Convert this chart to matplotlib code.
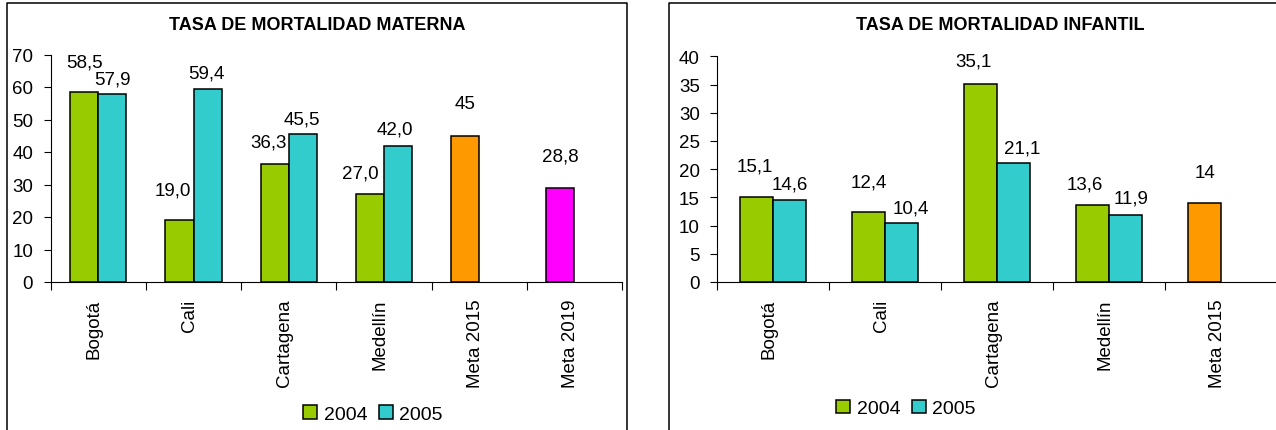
import matplotlib
matplotlib.use("Agg")
import matplotlib.pyplot as plt
from matplotlib.patches import Patch
from matplotlib.lines import Line2D
from matplotlib.transforms import ScaledTranslation

# ---------------- data ----------------
mat_categories = ["Bogotá", "Cali", "Cartagena", "Medellín", "Meta 2015", "Meta 2019"]
mat_2004 = [58.5, 19.0, 36.3, 27.0, 45, 28.8]
mat_2005 = [57.9, 59.4, 45.5, 42.0, None, None]
mat_yticks = [0, 10, 20, 30, 40, 50, 60, 70]

inf_categories = ["Bogotá", "Cali", "Cartagena", "Medellín", "Meta 2015"]
inf_2004 = [15.1, 12.4, 35.1, 13.6, 14]
inf_2005 = [14.6, 10.4, 21.1, 11.9, None]
inf_yticks = [0, 5, 10, 15, 20, 25, 30, 35, 40]

series_names = ["2004", "2005"]
title_mat = "TASA DE MORTALIDAD MATERNA"
title_inf = "TASA DE MORTALIDAD INFANTIL"

# ---------------- style ----------------
C2004 = "#99CC00"
C2005 = "#33CCCC"
C_META15 = "#FF9900"
C_META19 = "#FF00FF"
mat_colors_2004 = [C2004, C2004, C2004, C2004, C_META15, C_META19]
inf_colors_2004 = [C2004, C2004, C2004, C2004, C_META15]

# label offsets in pixels (dx, distance above bar top to label centre)
mat_off_2004 = [(0, 30), (-7, 30), (-6, 22), (-10, 21), (0, 32), (0, 32)]
mat_off_2005 = [(0, 15), (-1, 16), (-1, 15), (-3, 16)]
inf_off_2004 = [(-2, 31), (0, 30), (-7, 23), (-8, 21), (0, 31)]
inf_off_2005 = [(0, 16), (9, 15), (8, 15), (5, 17)]

FONT = ["Liberation Sans", "DejaVu Sans"]
plt.rcParams["font.family"] = FONT

W, H = 1276, 431
fig = plt.figure(figsize=(W / 100, H / 100), dpi=100)
fig.patch.set_facecolor("white")

PX = 72 / 100  # points per pixel
BW = 0.295


def fx(px):
    return px / W


def fy(py):
    return 1 - py / H


def fmt(v, cat):
    if cat.startswith("Meta"):
        return ("%g" % v).replace(".", ",")
    return ("%.1f" % v).replace(".", ",")


def draw(ax, cats, s04, s05, cols04, yticks, off04, off05):
    n = len(cats)
    xs = list(range(n))
    x04 = [x - BW / 2 for x in xs]
    ax.bar(x04, s04, width=BW, color=cols04, edgecolor="black", linewidth=1.1, zorder=3)
    idx05 = [i for i, v in enumerate(s05) if v is not None]
    x05 = [xs[i] + BW / 2 for i in idx05]
    v05 = [s05[i] for i in idx05]
    ax.bar(x05, v05, width=BW, color=C2005, edgecolor="black", linewidth=1.1, zorder=3)

    for i, v in enumerate(s04):
        dx, dy = off04[i]
        ax.annotate(fmt(v, cats[i]), (x04[i], v), xytext=(dx * PX, dy * PX),
                    textcoords="offset points", ha="center", va="center",
                    fontsize=13.5, color="black")
    for k, i in enumerate(idx05):
        dx, dy = off05[k]
        ax.annotate(fmt(s05[i], cats[i]), (x05[k], s05[i]), xytext=(dx * PX, dy * PX),
                    textcoords="offset points", ha="center", va="center",
                    fontsize=13.5, color="black")

    ax.set_xlim(-0.5, n - 0.5)
    ax.set_ylim(yticks[0], yticks[-1])
    ax.set_yticks(yticks)
    ax.set_yticklabels([str(t) for t in yticks], fontsize=13.5)
    ax.tick_params(axis="y", direction="out", length=5, width=0.8, pad=7.6, colors="black")

    ax.set_xticks([x - 0.5 for x in range(n + 1)])
    ax.set_xticklabels([])
    ax.tick_params(axis="x", which="major", direction="out", length=5.8, width=0.8)
    ax.set_xticks(xs, minor=True)
    ax.set_xticklabels(cats, minor=True, rotation=90, fontsize=13.5)
    ax.tick_params(axis="x", which="minor", length=0, pad=12)
    shift = ScaledTranslation(-4 / 100, 0, fig.dpi_scale_trans)
    for lab in ax.get_xticklabels(minor=True):
        lab.set_transform(lab.get_transform() + shift)

    for s in ("top", "right"):
        ax.spines[s].set_visible(False)
    for s in ("left", "bottom"):
        ax.spines[s].set_linewidth(0.8)
        ax.spines[s].set_color("black")
    ax.set_facecolor("white")


# left chart
ax1 = fig.add_axes([fx(50.7), fy(283), fx(622 - 50.7), (283 - 55.5) / H])
draw(ax1, mat_categories, mat_2004, mat_2005, mat_colors_2004, mat_yticks,
     mat_off_2004, mat_off_2005)

# right chart
ax2 = fig.add_axes([fx(717.3), fy(283), fx(560), (283 - 57.3) / H])
draw(ax2, inf_categories, inf_2004, inf_2005, inf_colors_2004, inf_yticks,
     inf_off_2004, inf_off_2005)

# titles
fig.text(fx(317), fy(26), title_mat, ha="center", va="center",
         fontsize=13, fontweight="bold")
fig.text(fx(1000), fy(26), title_inf, ha="center", va="center",
         fontsize=13, fontweight="bold")

# chart frames
lw = 1.1
for xs_, ys_ in [
    ([7, 7, 627, 627], [H + 5, 4, 4, H + 5]),
    ([669, 669, W + 5], [H + 5, 4, 4]),
]:
    fig.add_artist(Line2D([fx(x) for x in xs_], [fy(y) for y in ys_],
                          transform=fig.transFigure, color="black", linewidth=lw))

# legends
handles = [Patch(facecolor=C2004, edgecolor="black", linewidth=1.1),
           Patch(facecolor=C2005, edgecolor="black", linewidth=1.1)]
for cx, cy in [(373, 415), (906, 409.5)]:
    fig.legend(handles, series_names, loc="center", bbox_to_anchor=(fx(cx), fy(cy)),
               bbox_transform=fig.transFigure, ncol=2, frameon=False, fontsize=14,
               handlelength=0.7, handleheight=0.7, handletextpad=0.35,
               columnspacing=0.6, borderpad=0, borderaxespad=0)

fig.savefig("out.png", dpi=100)
